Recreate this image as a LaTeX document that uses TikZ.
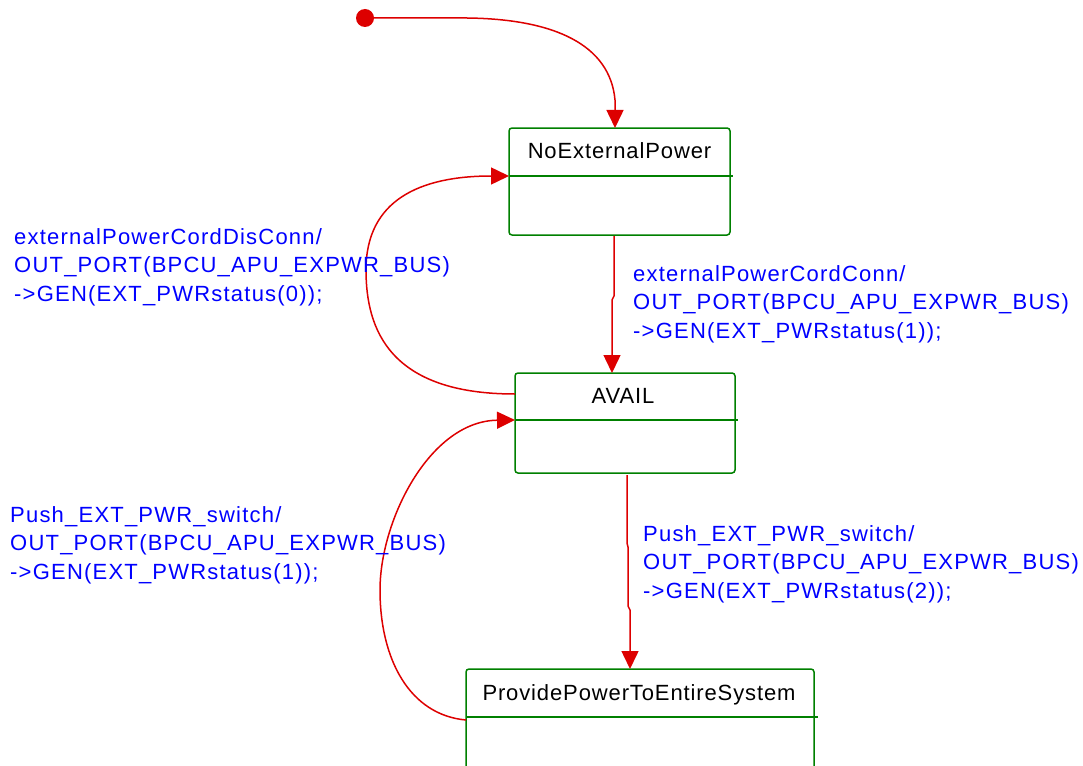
\documentclass[tikz,border=0pt]{standalone}
\usepackage{fontspec}
\setmainfont[LetterSpace=4]{Liberation Sans}
\usetikzlibrary{arrows.meta}
\definecolor{stategreen}{RGB}{0,128,0}
\definecolor{transred}{RGB}{221,0,0}
\definecolor{actionblue}{RGB}{0,0,255}

\begin{document}
\begin{tikzpicture}[x=1pt,y=-1pt,
  state/.style={draw=stategreen, line width=1.5pt, rounded corners=3pt, inner sep=0pt},
  divider/.style={draw=stategreen, line width=1.5pt},
  title/.style={font=\fontsize{22}{26}\selectfont, anchor=base, inner sep=0pt},
  trans/.style={draw=transred, line width=1.5pt, -{Triangle[length=18pt,width=17pt]}},
  action/.style={font=\fontsize{22}{28.5}\selectfont\addfontfeature{LetterSpace=5.5}, text=actionblue, anchor=base west, inner sep=0pt},
  initdot/.style={circle, fill=transred, minimum size=18pt, inner sep=0pt}]
\useasboundingbox (0,0) rectangle (1083,765);

% states
\node[state, minimum width=221pt, minimum height=107pt] (noext) at (619.5,181.5) {};
\node[title] (noextT) at (619.5,158) {NoExternalPower};
\coordinate (noextD) at (509,176);
\draw[divider] (noextD) -- ++(224,0);

\node[state, minimum width=220pt, minimum height=100pt] (avail) at (625,423) {};
\node[title] (availT) at (623,403) {AVAIL};
\coordinate (availD) at (515,420);
\draw[divider] (availD) -- ++(223,0);

\node[state, minimum width=348pt, minimum height=107pt] (provide) at (640,722.5) {};
\node[title] (provideT) at (639,700) {ProvidePowerToEntireSystem};
\coordinate (provideD) at (466,717);
\draw[divider] (provideD) -- ++(352,0);

% initial pseudo-state
\node[initdot] (init) at (365,18) {};

% transitions
\coordinate (noextTop) at (615,128);
\draw[trans] (init.center) -- (467,18) .. controls (555,19) and (610,45) .. (615,100) -- (noextTop);

\coordinate (noextBot) at (614,236);
\coordinate (availTop) at (612,373);
\draw[trans] (noextBot) -- (614,296) -- (612,300) -- (availTop);

\coordinate (availBot) at (627,475);
\coordinate (provideTop) at (630,669);
\draw[trans] (availBot) -- (627,543) -- (628,547) -- (628,606) -- (630,610) -- (provideTop);

\coordinate (availOut) at (515,394);
\draw[trans] (availOut) .. controls (390,394) and (366,330) .. (366,270)
  .. controls (366,200) and (420,176) .. (noextD);

\coordinate (provideOut) at (466,720);
\draw[trans] (provideOut) .. controls (410,715) and (380,660) .. (380,590)
  .. controls (380,520) and (430,421) .. (availD);

% transition labels
\node[action] (lblDis) at (14,244) {\begin{tabular}[t]{@{}l@{}}externalPowerCordDisConn/\\OUT\_PORT(BPCU\_APU\_EXPWR\_BUS)\\->GEN(EXT\_PWRstatus(0));\end{tabular}};
\node[action] (lblConn) at (633,281) {\begin{tabular}[t]{@{}l@{}}externalPowerCordConn/\\OUT\_PORT(BPCU\_APU\_EXPWR\_BUS)\\->GEN(EXT\_PWRstatus(1));\end{tabular}};
\node[action] (lblBack) at (10,522) {\begin{tabular}[t]{@{}l@{}}Push\_EXT\_PWR\_switch/\\OUT\_PORT(BPCU\_APU\_EXPWR\_BUS)\\->GEN(EXT\_PWRstatus(1));\end{tabular}};
\node[action] (lblPush) at (643,541) {\begin{tabular}[t]{@{}l@{}}Push\_EXT\_PWR\_switch/\\OUT\_PORT(BPCU\_APU\_EXPWR\_BUS)\\->GEN(EXT\_PWRstatus(2));\end{tabular}};
\end{tikzpicture}
\end{document}
